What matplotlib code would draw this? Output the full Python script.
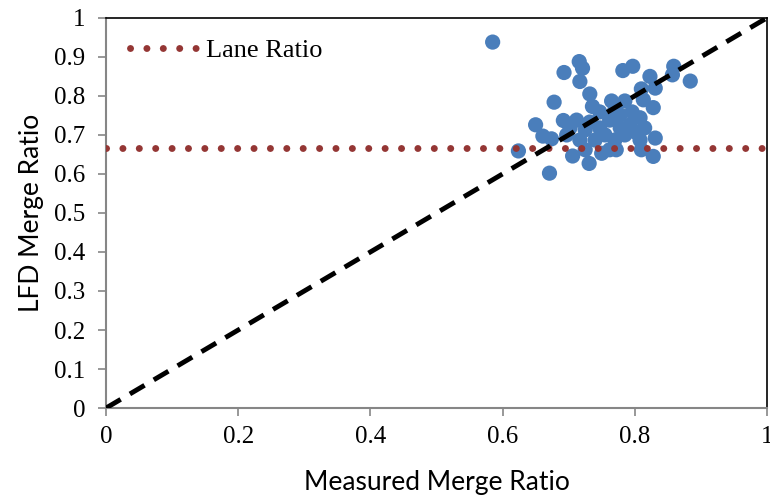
import matplotlib
matplotlib.use("Agg")
import matplotlib.pyplot as plt
from matplotlib.lines import Line2D

measured = [0.585, 0.716, 0.721, 0.693, 0.717, 0.782, 0.797, 0.823, 0.859, 0.857,
            0.884, 0.831, 0.810, 0.732, 0.678, 0.736, 0.765, 0.785, 0.828, 0.813,
            0.650, 0.692, 0.712, 0.661, 0.674, 0.624, 0.671, 0.706, 0.731, 0.750,
            0.772, 0.810, 0.828, 0.831, 0.697,
            0.747, 0.762, 0.778, 0.793, 0.808, 0.725, 0.740, 0.755, 0.770, 0.785,
            0.800, 0.808, 0.732, 0.778, 0.815, 0.717, 0.747, 0.770, 0.796, 0.702,
            0.762, 0.725]
lfd = [0.938, 0.888, 0.871, 0.860, 0.837, 0.865, 0.876, 0.850, 0.876, 0.854,
       0.838, 0.820, 0.818, 0.805, 0.784, 0.773, 0.787, 0.787, 0.770, 0.790,
       0.726, 0.737, 0.738, 0.697, 0.690, 0.659, 0.602, 0.646, 0.627, 0.653,
       0.662, 0.662, 0.645, 0.692, 0.700,
       0.718, 0.738, 0.751, 0.726, 0.744, 0.713, 0.687, 0.700, 0.687, 0.700,
       0.708, 0.687, 0.733, 0.718, 0.718, 0.687, 0.759, 0.764, 0.759, 0.718,
       0.662, 0.662]
lane_ratio = 2 / 3
diag = [0, 1]
ticks_x = [0, 0.2, 0.4, 0.6, 0.8, 1]
ticks_y = [0, 0.1, 0.2, 0.3, 0.4, 0.5, 0.6, 0.7, 0.8, 0.9, 1]

fig = plt.figure(figsize=(7.7, 4.97), dpi=100)
ax = fig.add_axes([0.1377, 0.179, 0.8583, 0.785])

dot_style = (0, (0.01, 2.35))
ax.scatter(measured, lfd, s=120, color="#4A7EBB", edgecolors="none", zorder=2, clip_on=False)
ax.plot([0, 1], [lane_ratio, lane_ratio], color="#943634", lw=5, linestyle=dot_style,
        dash_capstyle="round", zorder=3)
ax.plot(diag, diag, color="black", lw=3.5, linestyle=(0, (3.5, 2.2)), zorder=4)

ax.set_xlim(0, 1)
ax.set_ylim(0, 1)
ax.set_xticks(ticks_x)
ax.set_xticklabels(["0", "0.2", "0.4", "0.6", "0.8", "1"])
ax.set_yticks(ticks_y)
ax.set_yticklabels(["0", "0.1", "0.2", "0.3", "0.4", "0.5", "0.6", "0.7", "0.8", "0.9", "1"])

for lab in ax.get_xticklabels() + ax.get_yticklabels():
    lab.set_fontfamily("Liberation Serif")
    lab.set_fontsize(18)

ax.tick_params(axis="both", direction="out", length=6, width=1.2, color="#868686")
ax.tick_params(axis="x", pad=7)
ax.tick_params(axis="y", pad=9)
for side in ["left", "bottom"]:
    ax.spines[side].set_color("#868686")
    ax.spines[side].set_linewidth(1.5)
for side in ["top", "right"]:
    ax.spines[side].set_color("black")
    ax.spines[side].set_linewidth(1.2)

ax.set_xlabel("Measured Merge Ratio", fontfamily="Lato", fontsize=19, labelpad=16)
ax.set_ylabel("LFD Merge Ratio", fontfamily="Lato", fontsize=19, labelpad=7)

handle = Line2D([0], [0], color="#943634", lw=5, linestyle=dot_style, dash_capstyle="round")
leg = ax.legend([handle], ["Lane Ratio"], loc="upper left", frameon=False,
                prop={"family": "Liberation Serif", "size": 19},
                bbox_to_anchor=(0.0, 1.008), handlelength=2.75, handletextpad=0.15,
                borderaxespad=0.5)

fig.savefig("out.png", dpi=100)
